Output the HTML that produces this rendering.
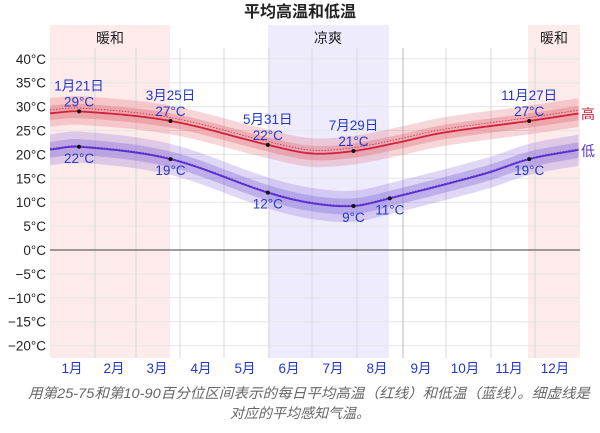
<!DOCTYPE html>
<html><head><meta charset="utf-8"><style>
body{margin:0;background:#fff;width:600px;height:428px;overflow:hidden}
svg text{font-family:"Liberation Sans","Noto Sans CJK SC",sans-serif}
</style></head><body>
<svg id="s" width="600" height="428" xmlns="http://www.w3.org/2000/svg">
<text x="300" y="17" text-anchor="middle" font-size="16" font-weight="bold" fill="#222">平均高温和低温</text>
<rect x="50" y="25" width="120" height="333" fill="#fdeaea"/>
<rect x="268" y="25" width="121" height="333" fill="#eeebfd"/>
<rect x="528" y="25" width="52" height="333" fill="#fdeaea"/>
<text x="110" y="43" text-anchor="middle" font-size="14" fill="#222">暖和</text>
<text x="328" y="43" text-anchor="middle" font-size="14" fill="#222">凉爽</text>
<text x="554" y="43" text-anchor="middle" font-size="14" fill="#222">暖和</text>
<g id="grid"></g>
<g id="bands"></g>
<line x1="50" x2="580" y1="250" y2="250" stroke="#666" stroke-width="1.2"/>
<g id="lab" font-size="13.5" fill="#2238c8" text-anchor="middle"></g>
<text x="581" y="119" font-size="14" fill="#d0223a">高</text>
<text x="581" y="156" font-size="14" fill="#5a35c8">低</text>
<text x="309" y="398" text-anchor="middle" font-size="14" font-style="italic" fill="#666" textLength="562" lengthAdjust="spacingAndGlyphs">用第25-75和第10-90百分位区间表示的每日平均高温（红线）和低温（蓝线）。细虚线是</text>
<text x="300" y="418" text-anchor="middle" font-size="14" font-style="italic" fill="#666">对应的平均感知气温。</text>
</svg>
<script>
const NS="http://www.w3.org/2000/svg";
function el(p,t,a,txt){const e=document.createElementNS(NS,t);for(const k in a)e.setAttribute(k,a[k]);if(txt!==undefined)e.textContent=txt;document.getElementById(p).appendChild(e);return e;}
const X=d=>50+d*530/365, Y=t=>250-4.78*t;
for(let t=-20;t<=40;t+=5){if(t!==0)el('grid','line',{x1:50,x2:580,y1:Y(t),y2:Y(t),stroke:'#e6e6e6'});
 el('grid','text',{x:46,y:Y(t)+5,'text-anchor':'end','font-size':13.5,fill:'#222'},(t<0?'−'+(-t):t)+'°C');}
const mb=[95,136,180,224,269,312,357,403,446,491,535];
mb.forEach((x,i)=>el('grid','line',{x1:x,x2:x,y1:48,y2:358,stroke:i==7?'#bbb':'#d8d8d8'}));
const ml=[72,114,157,201,245,289,333,377,421,465,509,555];
ml.forEach((x,i)=>el('grid','text',{x:x,y:373,'text-anchor':'middle','font-size':13.5,fill:'#2238c8'},(i+1)+'月'));
function interp(pts){const out=[];for(let d=0;d<=365;d+=2){let i=0;while(i<pts.length-2&&pts[i+1][0]<d)i++;
 const p0=pts[Math.max(i-1,0)],p1=pts[i],p2=pts[i+1],p3=pts[Math.min(i+2,pts.length-1)];
 const u=(d-p1[0])/(p2[0]-p1[0]);const m1=(p2[1]-p0[1])/(p2[0]-p0[0]||1)*(p2[0]-p1[0]),m2=(p3[1]-p1[1])/(p3[0]-p1[0]||1)*(p2[0]-p1[0]);
 const u2=u*u,u3=u2*u;out.push([d,(2*u3-3*u2+1)*p1[1]+(u3-2*u2+u)*m1+(-2*u3+3*u2)*p2[1]+(u3-u2)*m2]);}return out;}
const hi=interp([[0,28.6],[20,29],[83,27],[150,22],[180,20.2],[209,20.7],[240,22.5],[270,24.5],[330,27],[365,28.6]]);
const lo=interp([[0,21],[20,21.6],[83,19],[150,12],[180,9.8],[209,9.2],[234,10.8],[300,16],[330,19],[365,21]]);
function band(c,a,b,col){const up=c.map(p=>X(p[0])+','+Y(p[1]+a)).join(' ');const dn=c.slice().reverse().map(p=>X(p[0])+','+Y(p[1]+b)).join(' ');el('bands','polygon',{points:up+' '+dn,fill:col});}
function line(c,off,col,w,dash){const o={points:c.map(p=>X(p[0])+','+Y(p[1]+off)).join(' '),fill:'none',stroke:col,'stroke-width':w};if(dash)o['stroke-dasharray']=dash;el('bands','polyline',o);}
band(hi,3.2,-2.8,'rgba(230,120,130,0.3)');band(hi,1.6,-1.4,'rgba(225,100,115,0.35)');
band(lo,3.2,-3.3,'rgba(140,110,220,0.28)');band(lo,1.6,-1.7,'rgba(130,100,215,0.35)');
line(hi,0.7,'#c0304a',0.8,'1.5,1.5');line(lo,0.2,'#5a35c8',0.8,'1.5,1.5');
line(hi,0,'#d0223a',1.8);line(lo,0,'#5a2fd0',1.8);
const pts=[[20,29,'1月21日','29°C',1],[83,27,'3月25日','27°C',1],[150,22,'5月31日','22°C',1],[209,20.7,'7月29日','21°C',1],[330,27,'11月27日','27°C',1],
[20,21.6,null,'22°C',0],[83,19,null,'19°C',0],[150,12,null,'12°C',0],[209,9.2,null,'9°C',0],[234,10.8,null,'11°C',0],[330,19,null,'19°C',0]];
pts.forEach(p=>{const x=X(p[0]),y=Y(p[1]);el('lab','circle',{cx:x,cy:y,r:2,fill:'#111'});
 if(p[4]){el('lab','text',{x:x,y:y-21},p[2]);el('lab','text',{x:x,y:y-5},p[3]);}else el('lab','text',{x:x,y:y+16},p[3]);});
</script>
</body></html>
